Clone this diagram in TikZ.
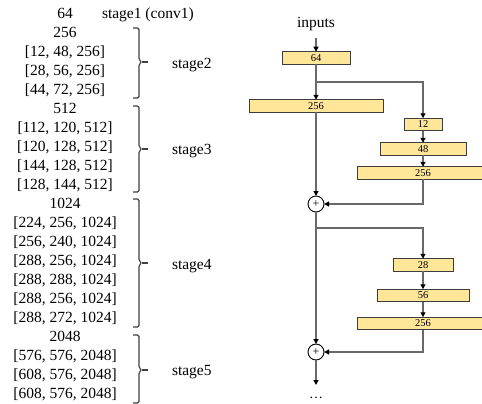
\documentclass[tikz,border=0pt]{standalone}
\usepackage{fontspec}
\setmainfont{Liberation Serif}
\usetikzlibrary{arrows.meta}
\definecolor{boxfill}{RGB}{255,230,153}
\definecolor{boxline}{RGB}{60,60,60}
\definecolor{wire}{RGB}{105,105,105}
\begin{document}
\begin{tikzpicture}[x=1pt,y=-1pt,
  every node/.style={inner sep=0pt, outer sep=0pt},
  txt/.style={font=\fontsize{15.5}{19}\selectfont, anchor=base},
  stagelbl/.style={font=\fontsize{15.5}{19}\selectfont, anchor=base west},
  block/.style={draw=boxline, line width=0.9pt, fill=boxfill,
    minimum height=12.5pt, font=\fontsize{10.5}{12}\selectfont},
  wirestyle/.style={draw=wire, line width=1.2pt},
  flow/.style={wirestyle, -{Triangle[length=5pt,width=5pt,color=black]}},
  sumnode/.style={circle, draw=black, line width=0.9pt, fill=white,
    minimum size=16pt, font=\fontsize{12}{12}\selectfont},
  bracket/.style={draw=black!75, line width=1.1pt, rounded corners=1.5pt}]
\clip (0,0) rectangle (482,404);
\fill[white] (0,0) rectangle (482,404);

% channel widths, one line each
\foreach \t [count=\i from 0] in {64,256,{[12, 48, 256]},{[28, 56, 256]},{[44, 72, 256]},
  512,{[112, 120, 512]},{[120, 128, 512]},{[144, 128, 512]},{[128, 144, 512]},
  1024,{[224, 256, 1024]},{[256, 240, 1024]},{[288, 256, 1024]},{[288, 288, 1024]},
  {[288, 256, 1024]},{[288, 272, 1024]},
  2048,{[576, 576, 2048]},{[608, 576, 2048]},{[608, 576, 2048]}}
  \node[txt] (line\i) at (65,{19+18.95*\i}) {\t};

% stage labels
\node[stagelbl] (s1) at (102,19) {stage1 (conv1)};
\node[stagelbl] (s2) at (172,69) {stage2};
\node[stagelbl] (s3) at (172,154) {stage3};
\node[stagelbl] (s4) at (172,269) {stage4};
\node[stagelbl] (s5) at (172,375) {stage5};

% brackets grouping the stages
\foreach \a/\m/\b in {28/62/98, 106/149/192, 199/263/327, 335/370/403}{
  \draw[bracket] (133,\a) -- (139,\a) -- (139,\m-2) -- (142,\m) -- (139,\m+2) -- (139,\b) -- (133,\b);
  \draw[bracket, rounded corners=0pt] (142,\m) -- (148,\m);
}

% network blocks
\node[font=\fontsize{15.5}{19}\selectfont, anchor=base] (in) at (316,28) {inputs};
\node[block, minimum width=68pt] (b64) at (316,58) {64};
\node[block, minimum width=134pt] (b256a) at (316,106) {256};
\node[block, minimum width=38pt] (b12) at (423,124.5) {12};
\node[block, minimum width=86pt] (b48) at (423,149) {48};
\node[block, minimum width=132pt] (b256b) at (423,173) {256};
\node[sumnode] (p1) at (316,204) {+};
\node[block, minimum width=60pt] (b28) at (423,265) {28};
\node[block, minimum width=92pt] (b56) at (423,295.5) {56};
\node[block, minimum width=132pt] (b256c) at (423,323.5) {256};
\node[sumnode] (p2) at (316,352) {+};
\coordinate (out) at (316,385);
\node[font=\fontsize{14}{14}\selectfont, anchor=base] (dots) at (316,398) {…};

% connectors
\draw[flow] ([yshift=-7pt]in.south) -- (b64.north);
\draw[flow] (b64.south) -- (b256a.north);
\draw[flow] (b64.south |- 0,82) -| (b12.north);
\draw[flow] (b12) -- (b48);
\draw[flow] (b48) -- (b256b);
\draw[flow] (b256a.south) -- (p1.north);
\draw[flow] (b256b.south) |- (p1.east);
\draw[flow] (p1.south) -- (p2.north);
\draw[flow] (p1.south |- 0,228) -| (b28.north);
\draw[flow] (b28) -- (b56);
\draw[flow] (b56) -- (b256c);
\draw[flow] (b256c.south) |- (p2.east);
\draw[flow] (p2.south) -- (out);
\end{tikzpicture}
\end{document}
